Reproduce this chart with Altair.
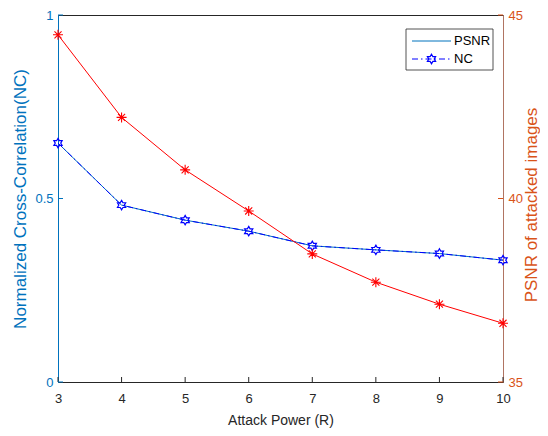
import altair as alt
import pandas as pd

# ---- data ----
attack_power = [3, 4, 5, 6, 7, 8, 9, 10]
nc_values = [0.651, 0.482, 0.441, 0.411, 0.371, 0.360, 0.350, 0.332]
psnr_values = [44.46, 42.21, 40.78, 39.66, 38.49, 37.72, 37.12, 36.60]
nc_ticks = [0, 0.5, 1]
psnr_ticks = [35, 40, 45]
x_ticks = [3, 4, 5, 6, 7, 8, 9, 10]
legend_labels = ["PSNR", "NC"]
legend_rows = [26, 44]

W, H = 445, 367
FONT = "Liberation Sans"
BLUE_AX = "#0072BD"
RED_AX = "#D95319"
DARK = "#262626"

df = pd.DataFrame({"x": attack_power, "nc": nc_values, "psnr": psnr_values})
df_nc_ticks = pd.DataFrame({"nc": nc_ticks})
df_psnr_ticks = pd.DataFrame({"psnr": psnr_ticks})
df_x_ticks = pd.DataFrame({"x": x_ticks})
lg = pd.DataFrame({"label": legend_labels, "ypos": legend_rows})

hexagram = ("M0,-1L0.2887,-0.5L0.866,-0.5L0.5774,0L0.866,0.5L0.2887,0.5L0,1"
            "L-0.2887,0.5L-0.866,0.5L-0.5774,0L-0.866,-0.5L-0.2887,-0.5Z")
asterisk = "M0,-1L0,1M-1,0L1,0M-0.707,-0.707L0.707,0.707M-0.707,0.707L0.707,-0.707"

X = alt.X("x:Q", scale=alt.Scale(domain=[3, 10], nice=False, zero=False),
          axis=alt.Axis(values=x_ticks, ticks=False, tickSize=0, grid=False,
                        labelFlush=False,
                        domainColor=DARK, labelColor=DARK, labelFontSize=13,
                        labelPadding=10, labelFont=FONT,
                        title="Attack Power (R)", titleFont=FONT, titleFontSize=14,
                        titleFontWeight="normal", titleColor=DARK,
                        titleX=W / 2, titleY=38, titleBaseline="middle"))

Y_L = alt.Y("nc:Q", scale=alt.Scale(domain=[0, 1], nice=False, zero=False),
            axis=alt.Axis(values=nc_ticks, format="~g", ticks=False, tickSize=0,
                          grid=False, labelFlush=False,
                          domainColor=BLUE_AX, labelColor=BLUE_AX,
                          labelFontSize=13, labelPadding=5, labelFont=FONT,
                          orient="left",
                          title="Normalized Cross-Correlation(NC)", titleFont=FONT,
                          titleFontSize=17, titleFontWeight="normal",
                          titleColor=BLUE_AX, titleAngle=270, titleX=-38,
                          titleY=H / 2, titleAlign="center", titleBaseline="middle"))

Y_R = alt.Y("psnr:Q", scale=alt.Scale(domain=[35, 45], nice=False, zero=False),
            axis=alt.Axis(values=psnr_ticks, ticks=False, tickSize=0, grid=False,
                          labelFlush=False,
                          domainColor="#B07462", labelColor=RED_AX,
                          labelFontSize=13, labelPadding=5, labelFont=FONT,
                          orient="right",
                          title="PSNR of attacked images", titleFont=FONT,
                          titleFontSize=17, titleFontWeight="normal",
                          titleColor=RED_AX, titleAngle=270, titleX=28,
                          titleY=H / 2 + 6, titleAlign="center", titleBaseline="middle"))

base = alt.Chart(df)

nc_solid = base.mark_line(color=BLUE_AX, strokeWidth=1).encode(x=X, y=Y_L)
nc_dash = base.mark_line(color="#0000FF", strokeWidth=1,
                         strokeDash=[6, 3, 1.5, 3]).encode(x=X, y=Y_L)
nc_pts = base.mark_point(shape=hexagram, size=90, filled=False, color="#0000FF",
                         strokeWidth=1.2, opacity=1).encode(x=X, y=Y_L)
x_tick_rules = alt.Chart(df_x_ticks).mark_rule(color=DARK, strokeWidth=1).encode(
    x=X, y=alt.value(H), y2=alt.value(H - 5))
left_tick_rules = alt.Chart(df_nc_ticks).mark_rule(color=BLUE_AX, strokeWidth=1).encode(
    y=Y_L, x=alt.value(0), x2=alt.value(5))

left = alt.layer(nc_solid, nc_dash, nc_pts, x_tick_rules, left_tick_rules)

psnr_line = base.mark_line(color="#FF0000", strokeWidth=1).encode(x=X, y=Y_R)
psnr_pts = base.mark_point(shape=asterisk, size=100, filled=False, color="#FF0000",
                           strokeWidth=1.1, opacity=1).encode(x=X, y=Y_R)
right_tick_rules = alt.Chart(df_psnr_ticks).mark_rule(color=RED_AX, strokeWidth=1).encode(
    y=Y_R, x=alt.value(W - 5), x2=alt.value(W))

right = alt.layer(psnr_line, psnr_pts, right_tick_rules)

# ---- legend box (top right, inside plot) ----
one = lg.head(1)
box = alt.Chart(one).mark_rect(fill="white", stroke=DARK, strokeWidth=0.8).encode(
    x=alt.value(348), x2=alt.value(435), y=alt.value(14), y2=alt.value(55))
lg_psnr_line = alt.Chart(one).mark_rule(color=BLUE_AX, strokeWidth=1).encode(
    x=alt.value(354), x2=alt.value(393), y=alt.value(26))
lg_nc_line = alt.Chart(one).mark_rule(color="#0000FF", strokeWidth=1,
                                      strokeDash=[6, 3, 1.5, 3]).encode(
    x=alt.value(354), x2=alt.value(393), y=alt.value(44))
lg_nc_pt = alt.Chart(one).mark_point(shape=hexagram, size=90, filled=False,
                                     color="#0000FF", strokeWidth=1.2,
                                     opacity=1).encode(
    x=alt.value(373.5), y=alt.value(44))
lg_text = alt.Chart(lg).mark_text(
    align="left", baseline="middle", font=FONT, fontSize=13, color="black").encode(
    x=alt.value(396), y=alt.Y("ypos:Q", scale=None), text="label:N")

legend = alt.layer(box, lg_psnr_line, lg_nc_line, lg_nc_pt, lg_text)

chart = alt.layer(left, right, legend).resolve_scale(y="independent").properties(
    width=W, height=H,
    autosize=alt.AutoSizeParams(type="none"),
    padding={"left": 50, "top": 7, "right": 37, "bottom": 46},
    background="white",
).configure_view(stroke=DARK, strokeWidth=1)

chart.save("out.html", embed_options={"renderer": "svg", "actions": False})
